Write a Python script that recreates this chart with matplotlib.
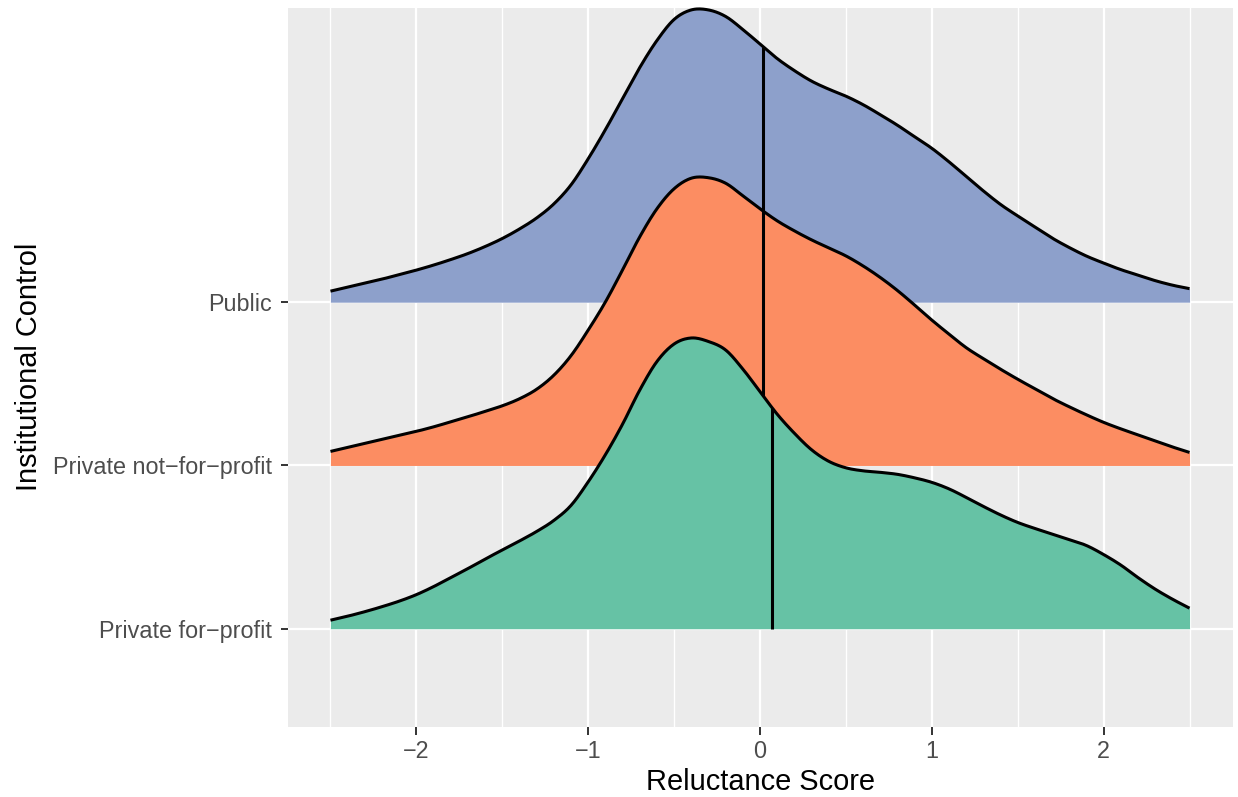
import numpy as np
import matplotlib
matplotlib.use("Agg")
import matplotlib.pyplot as plt
from matplotlib.ticker import MultipleLocator

# Reluctance score grid on which the kernel densities were evaluated
score = np.round(np.linspace(-2.5, 2.5, 51), 2)

groups = ["Private for\u2212profit", "Private not\u2212for\u2212profit", "Public"]

dens_for_profit = [
    0.017, 0.025, 0.034, 0.044, 0.055, 0.068, 0.084, 0.102, 0.120, 0.139,
    0.157, 0.175, 0.194, 0.216, 0.246, 0.293, 0.347, 0.408, 0.476, 0.533,
    0.568, 0.580, 0.573, 0.556, 0.518, 0.473, 0.428, 0.390, 0.357, 0.334,
    0.321, 0.315, 0.312, 0.308, 0.301, 0.292, 0.279, 0.262, 0.244, 0.227,
    0.212, 0.200, 0.189, 0.178, 0.166, 0.148, 0.127, 0.102, 0.079, 0.059,
    0.041,
]
dens_not_for_profit = [
    0.028, 0.036, 0.044, 0.052, 0.060, 0.068, 0.077, 0.087, 0.097, 0.108,
    0.119, 0.133, 0.152, 0.180, 0.219, 0.270, 0.326, 0.390, 0.456, 0.512,
    0.552, 0.573, 0.574, 0.563, 0.538, 0.512, 0.488, 0.468, 0.450, 0.434,
    0.418, 0.398, 0.375, 0.349, 0.320, 0.290, 0.262, 0.235, 0.213, 0.192,
    0.172, 0.153, 0.134, 0.117, 0.101, 0.086, 0.073, 0.061, 0.049, 0.037,
    0.026,
]
dens_public = [
    0.022, 0.030, 0.038, 0.046, 0.055, 0.064, 0.074, 0.085, 0.097, 0.111,
    0.127, 0.146, 0.168, 0.196, 0.234, 0.286, 0.344, 0.406, 0.468, 0.522,
    0.564, 0.583, 0.583, 0.570, 0.544, 0.515, 0.486, 0.462, 0.441, 0.425,
    0.411, 0.394, 0.374, 0.353, 0.330, 0.307, 0.280, 0.251, 0.222, 0.195,
    0.172, 0.150, 0.128, 0.109, 0.092, 0.078, 0.065, 0.054, 0.043, 0.034,
    0.027,
]
densities = [dens_for_profit, dens_not_for_profit, dens_public]
medians = [0.07, 0.02, 0.02]
fills = ["#66C2A5", "#FC8D62", "#8DA0CB"]

x_ticks = [-2, -1, 0, 1, 2]
ridge_scale = 1.79


def smooth_curve(x, y, xq):
    """Cubic Hermite curve through the evaluated points, used for rendering."""
    x = np.asarray(x, float)
    y = np.asarray(y, float)
    m = np.gradient(y, x)
    idx = np.clip(np.searchsorted(x, xq) - 1, 0, len(x) - 2)
    x0, x1 = x[idx], x[idx + 1]
    hh = x1 - x0
    t = (xq - x0) / hh
    h00 = 2 * t**3 - 3 * t**2 + 1
    h10 = t**3 - 2 * t**2 + t
    h01 = -2 * t**3 + 3 * t**2
    h11 = t**3 - t**2
    return h00 * y[idx] + h10 * hh * m[idx] + h01 * y[idx + 1] + h11 * hh * m[idx + 1]


plt.rcParams["font.family"] = ["Liberation Sans", "DejaVu Sans"]

fig = plt.figure(figsize=(12.38, 7.97), dpi=100)
ax = fig.add_axes([287.5 / 1238, 70.3 / 797, 945 / 1238, 718.4 / 797])
ax.set_facecolor("#EBEBEB")
for s in ax.spines.values():
    s.set_visible(False)

dmax = max(max(d) for d in densities)
xs = np.linspace(score[0], score[-1], 801)

# Draw ridges from the top row down so lower ridges overlap the ones above
for i in reversed(range(len(groups))):
    base = i + 1
    h = np.array(densities[i]) / dmax * ridge_scale
    hs = smooth_curve(score, h, xs)
    z = 10 + (len(groups) - i) * 3
    ax.fill_between(xs, base, base + hs, color=fills[i], linewidth=0, zorder=z)
    ax.plot(xs, base + hs, color="black", lw=2.2, zorder=z + 1,
            solid_capstyle="butt", solid_joinstyle="round", clip_on=False)
    mh = float(smooth_curve(score, h, np.array([medians[i]]))[0])
    ax.plot([medians[i], medians[i]], [base, base + mh], color="black",
            lw=2.2, zorder=z + 1, solid_capstyle="butt")

ax.set_xlim(-2.75, 2.75)
ax.set_ylim(0.4, 4.8)
ax.set_xticks(x_ticks)
ax.xaxis.set_minor_locator(MultipleLocator(0.5))
ax.set_yticks([1, 2, 3])
ax.set_yticklabels(groups)

ax.grid(which="major", color="white", lw=1.65, zorder=0)
ax.grid(which="minor", axis="x", color="white", lw=0.95, zorder=0)
ax.set_axisbelow(True)

ax.tick_params(axis="both", which="major", length=5.4, width=1.4,
               color="#333333", labelcolor="#4D4D4D", labelsize=16.8)
ax.tick_params(axis="x", which="major", pad=4.0)
ax.tick_params(axis="y", which="major", pad=6.0)
ax.tick_params(which="minor", length=0)

fig.text(761 / 1238, 1 - 790 / 797, "Reluctance Score", ha="center",
         va="baseline", fontsize=20.9, color="black")
fig.text(29 / 1238, 1 - 367 / 797, "Institutional Control", ha="center",
         va="center", rotation=90, fontsize=20.9, color="black")

fig.savefig("out.png", dpi=100, facecolor="white")
